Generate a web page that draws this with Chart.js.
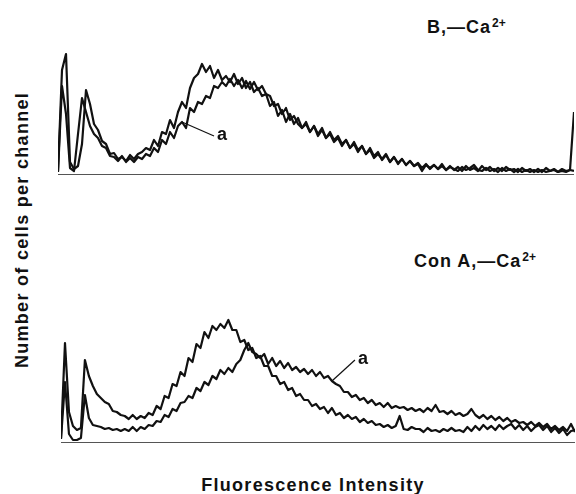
<!DOCTYPE html>
<html>
<head>
<meta charset="utf-8">
<script src="https://cdn.jsdelivr.net/npm/chart.js@4.4.0/dist/chart.umd.min.js"></script>
<style>
  body { margin: 0; background: #fff; }
  #page { position: relative; width: 576px; height: 494px; overflow: hidden; font-family: "Liberation Sans", Arial, sans-serif; font-weight: bold; color: #111; }
  canvas { position: absolute; }
  .lbl { position: absolute; font-size: 18px; line-height: 18px; letter-spacing: 1px; white-space: nowrap; }
  .lbl .sup { position: relative; top: -6px; font-size: 12px; letter-spacing: 0; margin-left: 1px; }
</style>
</head>
<body>
<div id="page">
  <canvas id="topChart" style="left:58px; top:40px;" width="516" height="138"></canvas>
  <canvas id="bottomChart" style="left:61px; top:300px;" width="514" height="146"></canvas>
  <div class="lbl" style="left:427px; top:18px;">B,—Ca<span class="sup">2+</span></div>
  <div class="lbl" style="left:414px; top:252px;">Con A,—Ca<span class="sup">2+</span></div>
  <div class="lbl" style="left:313px; top:476px; transform:translateX(-50%); letter-spacing:1.3px;">Fluorescence Intensity</div>
  <div class="lbl" style="left:22px; top:230px; transform:translate(-50%,-50%) rotate(-90deg); letter-spacing:1.3px;">Number of cells per channel</div>
</div>
<script>
// channel numbers (every 2nd channel of the analyser)
const channels = Array.from({ length: 130 }, (_, i) => i * 2);

// panel B, -Ca2+
const bCellsA = [3,104,120,12,5,8,30,84,70,50, 44,33,30,20,21,15,17,13,19,15,
  20,22,26,24,34,28,42,40,54,46, 62,72,66,86,96,100,110,102,108,96,
  104,94,98,92,100,90,96,86,92,82, 86,78,80,68,72,58,64,52,60,50,
  56,46,50,42,48,40,46,36,42,34, 38,30,34,26,32,24,28,20,26,18,
  22,14,19,12,17,10,15,9,13,8, 11,6,10,5,9,5,10,4,8,4,
  7,3,8,4,6,3,8,4,7,3, 6,3,7,4,5,2,6,3,5,2,
  5,2,6,3,4,2,5,3,4,62];
const bCellsB = [2,88,60,6,3,40,76,62,48,40, 36,28,26,18,17,13,18,12,16,12,
  17,15,20,18,26,22,34,30,42,36, 48,52,46,66,62,72,70,78,76,88,
  86,92,88,95,88,94,86,93,85,92, 84,88,80,78,68,70,60,66,54,58,
  50,46,52,42,48,38,44,36,40,32, 36,28,34,26,30,22,28,20,24,16,
  20,15,20,12,17,11,15,9,13,8, 10,3,9,6,9,5,8,4,7,5,
  3,7,4,6,9,4,3,6,3,5, 2,6,3,5,2,5,2,4,2,4,
  2,4,2,3,5,2,3,2,4,3];

// panel Con A, -Ca2+
const conCellsP = [4,99,30,16,12,14,82,66,56,48, 44,40,38,31,30,27,26,23,27,23,
  26,24,29,27,36,33,46,44,58,56, 70,66,84,80,98,94,110,104,116,112,
  118,114,122,112,112,100,102,92,94,84, 86,76,76,66,66,58,60,52,54,46,
  48,42,42,36,38,33,35,29,34,27, 29,24,27,23,25,20,23,19,21,17,
  18,15,17,14,16,26,13,12,15,13, 13,10,14,11,12,10,13,11,14,11,
  12,10,15,11,16,12,17,13,16,12, 17,13,16,18,13,17,12,16,11,15,
  17,12,16,10,14,9,13,7,11,12];
const conCellsQ = [3,60,8,2,2,4,47,24,17,16, 15,13,14,12,13,11,13,11,15,11,
  15,13,17,16,21,20,27,25,33,31, 39,40,46,44,54,51,60,57,66,63,
  72,68,74,70,78,82,92,99,90,88, 84,88,78,84,76,81,74,79,72,75,
  70,73,68,72,66,70,64,66,61,58, 56,50,50,45,47,42,44,39,42,37,
  39,35,39,34,36,34,35,32,34,31, 33,30,34,31,37,30,31,28,31,27,
  29,26,28,33,27,24,27,23,26,22, 25,21,24,20,22,19,20,17,20,16,
  19,15,18,13,16,12,15,11,18,10];

// baseline under each histogram + the "a" pointer
const panelPlugin = {
  id: 'panel',
  afterDraw(chart, args, opts) {
    const ctx = chart.ctx;
    const area = chart.chartArea;
    ctx.save();
    ctx.fillStyle = '#555';
    ctx.fillRect(area.left, area.bottom, area.right - area.left, 1);
    if (opts.pointer) {
      const p = opts.pointer;
      const el = chart.getDatasetMeta(p.dataset).data[p.index];
      ctx.strokeStyle = '#111';
      ctx.lineWidth = 1.2;
      ctx.beginPath();
      ctx.moveTo(el.x, el.y);
      ctx.lineTo(el.x + p.dx, el.y + p.dy);
      ctx.stroke();
      ctx.fillStyle = '#111';
      ctx.font = 'bold 18px "Liberation Sans", Arial, sans-serif';
      ctx.textBaseline = 'middle';
      ctx.fillText(p.text, el.x + p.dx + 3, el.y + p.dy - 1);
    }
    ctx.restore();
  }
};

function histChart(id, series, yMax, pointer) {
  return new Chart(document.getElementById(id), {
    type: 'line',
    data: {
      labels: channels,
      datasets: series.map(vals => ({
        data: vals,
        borderColor: '#111',
        borderWidth: 2.2,
        borderJoinStyle: 'round',
        pointRadius: 0,
        tension: 0,
        fill: false,
        clip: false
      }))
    },
    options: {
      responsive: false,
      animation: false,
      layout: { padding: { top: 0, bottom: 4, left: 0, right: 0 } },
      plugins: {
        legend: { display: false },
        tooltip: { enabled: false },
        panel: { pointer: pointer }
      },
      scales: {
        x: { type: 'category', display: false, offset: false },
        y: { display: false, min: 0, max: yMax }
      }
    },
    plugins: [panelPlugin]
  });
}

histChart('topChart', [bCellsA, bCellsB], 134, { dataset: 1, index: 31, dx: 32, dy: 14, text: 'a' });
histChart('bottomChart', [conCellsP, conCellsQ], 142, { dataset: 1, index: 68, dx: 23, dy: -21, text: 'a' });
</script>
</body>
</html>
